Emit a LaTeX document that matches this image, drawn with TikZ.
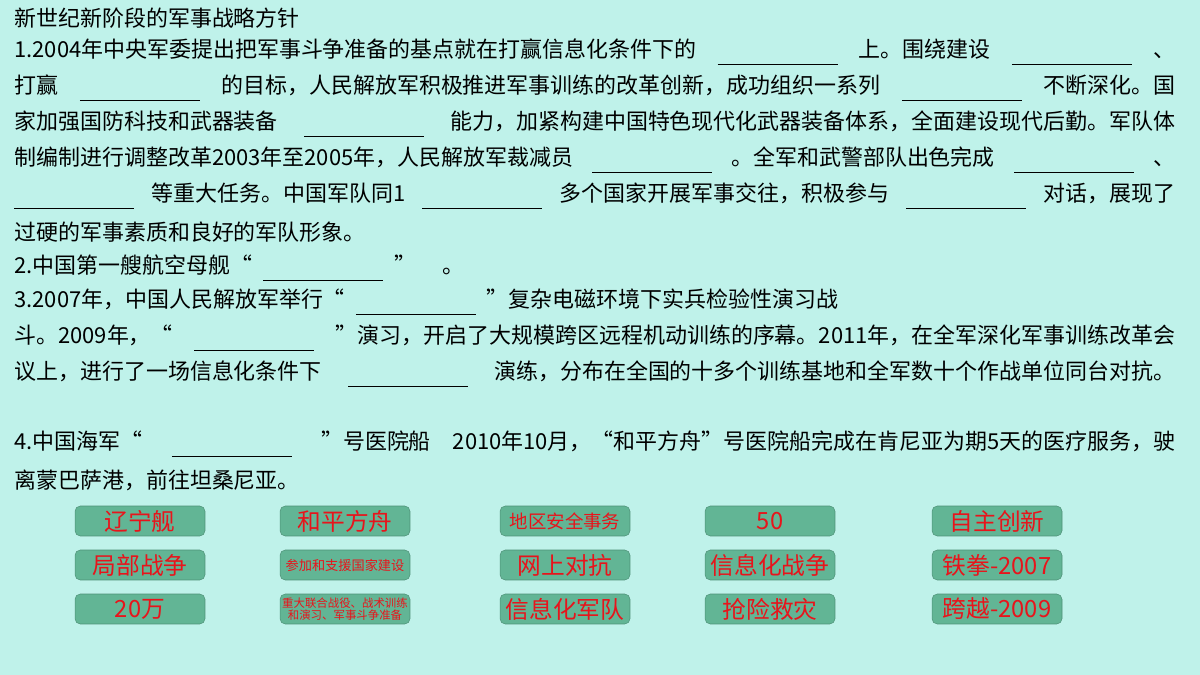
\documentclass[tikz,border=0pt]{standalone}
\usepackage{fontspec}
\newfontfamily\cjk{Noto Sans CJK SC}
\definecolor{bgcyan}{HTML}{BFF2EA}
\definecolor{btngreen}{HTML}{62B595}
\definecolor{btnred}{HTML}{E8141B}
\newcommand{\gap}{\hspace{0.4em plus 1fill}\rule[-4pt]{2.4cm}{0.5pt}\hspace{0.4em plus 1fill}}
\newcommand{\fullline}[1]{\makebox[23.22cm][s]{#1}}
\tikzset{
  textline/.style={anchor=west, inner sep=0pt, font=\cjk\fontsize{12.5}{14}\selectfont},
  answer/.style={draw=btngreen!80!black, line width=0.3pt, fill=btngreen, rounded corners=3pt,
    minimum width=2.6cm, minimum height=0.6cm, inner sep=0pt, text=btnred, font=\cjk\fontsize{13.5}{15}\selectfont},
  smallanswer/.style={answer, font=\cjk\fontsize{6.5}{7}\selectfont, align=center}
}
\begin{document}
\begin{tikzpicture}[x=0.02cm, y=-0.02cm]
  \fill[bgcyan] (0,0) rectangle (1200,675);
  \useasboundingbox (0,0) rectangle (1200,675);
  % question text
  \node[textline] (l1) at (14,18) {新世纪新阶段的军事战略方针};
  \node[textline] (l2) at (14,52) {\fullline{1.2004年中央军委提出把军事斗争准备的基点就在打赢信息化条件下的\gap 上。围绕建设\gap 、}};
  \node[textline] (l3) at (14,88) {\fullline{打赢\gap 的目标，人民解放军积极推进军事训练的改革创新，成功组织一系列\gap 不断深化。国}};
  \node[textline] (l4) at (14,124) {\fullline{家加强国防科技和武器装备\gap 能力，加紧构建中国特色现代化武器装备体系，全面建设现代后勤。军队体}};
  \node[textline] (l5) at (14,160) {\fullline{制编制进行调整改革2003年至2005年，人民解放军裁减员\gap 。全军和武警部队出色完成\gap 、}};
  \node[textline] (l6) at (14,196) {\fullline{\rule[-4pt]{2.4cm}{0.5pt}\hspace{0.4em plus 1fill}等重大任务。中国军队同1\gap 多个国家开展军事交往，积极参与\gap 对话，展现了}};
  \node[textline] (l7) at (14,232) {过硬的军事素质和良好的军队形象。};
  \node[textline] (l8) at (14,268) {2.中国第一艘航空母舰“\hspace{0.5em}\rule[-4pt]{2.4cm}{0.5pt}\hspace{0.5em}”\hspace{1.2em}。};
  \node[textline] (l9) at (14,302) {3.2007年，中国人民解放军举行“\hspace{0.5em}\rule[-4pt]{2.4cm}{0.5pt}\hspace{0.5em}”复杂电磁环境下实兵检验性演习战};
  \node[textline] (l10) at (14,338) {\fullline{斗。2009年，“\gap ”演习，开启了大规模跨区远程机动训练的序幕。2011年，在全军深化军事训练改革会}};
  \node[textline] (l11) at (14,374) {\fullline{议上，进行了一场信息化条件下\gap 演练，分布在全国的十多个训练基地和全军数十个作战单位同台对抗。}};
  \node[textline] (l12) at (14,444) {\fullline{4.中国海军“\gap ”号医院船\hspace{1em}2010年10月，“和平方舟”号医院船完成在肯尼亚为期5天的医疗服务，驶}};
  \node[textline] (l13) at (14,480) {离蒙巴萨港，前往坦桑尼亚。};
  % answer buttons
  \node[answer] (a11) at (140,521) {辽宁舰};
  \node[answer] (a12) at (345,521) {和平方舟};
  \node[answer, font=\cjk\fontsize{10.5}{12}\selectfont] (a13) at (565,521) {地区安全事务};
  \node[answer] (a14) at (770,521) {50};
  \node[answer] (a15) at (997,521) {自主创新};
  \node[answer] (a21) at (140,565) {局部战争};
  \node[smallanswer, font=\cjk\fontsize{7.5}{8}\selectfont] (a22) at (345,565) {参加和支援国家建设};
  \node[answer] (a23) at (565,565) {网上对抗};
  \node[answer] (a24) at (770,565) {信息化战争};
  \node[answer] (a25) at (997,565) {铁拳-2007};
  \node[answer] (a31) at (140,609) {20万};
  \node[smallanswer] (a32) at (345,609) {重大联合战役、战术训练\\和演习、军事斗争准备};
  \node[answer] (a33) at (565,609) {信息化军队};
  \node[answer] (a34) at (770,609) {抢险救灾};
  \node[answer] (a35) at (997,609) {跨越-2009};
\end{tikzpicture}
\end{document}
